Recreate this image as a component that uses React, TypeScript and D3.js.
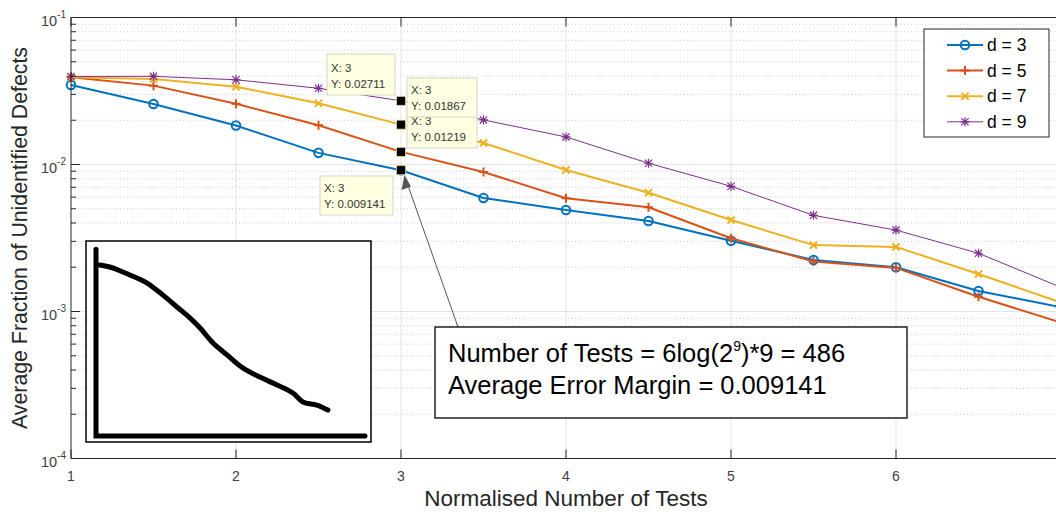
import * as d3 from "d3";

const W = 1056;
const H = 512;

// data
const xValues = [1, 1.5, 2, 2.5, 3, 3.5, 4, 4.5, 5, 5.5, 6, 6.5, 7];
const d3Values = [0.0347, 0.0258, 0.0184, 0.012, 0.009141, 0.00592, 0.0049, 0.00413, 0.00303, 0.00224, 0.002, 0.00138, 0.00107];
const d5Values = [0.0392, 0.0344, 0.0259, 0.0185, 0.01219, 0.00889, 0.0059, 0.00512, 0.00315, 0.00219, 0.00198, 0.00126, 0.00084];
const d7Values = [0.0392, 0.0382, 0.0338, 0.0261, 0.01867, 0.014, 0.00918, 0.00643, 0.00419, 0.00283, 0.00275, 0.0018, 0.00115];
const d9Values = [0.0397, 0.0398, 0.0377, 0.033, 0.02711, 0.0201, 0.0154, 0.0102, 0.00711, 0.00451, 0.00358, 0.00249, 0.00146];
const seriesNames = ["d = 3", "d = 5", "d = 7", "d = 9"];
const seriesColors = ["#0072BD", "#D95319", "#EDB120", "#7E2F8E"];
const seriesMarkers = ["o", "+", "x", "*"];
const seriesWidths = [2, 2, 2, 1];
const xTicks = [1, 2, 3, 4, 5, 6, 7];
const xTickLabels = ["1", "2", "3", "4", "5", "6", ""];
const yExponents = [-4, -3, -2, -1];

// data tips at x = 3 (drawn in this order)
const tipSeries = [3, 0, 2, 1];
const tipLabels = ["0.02711", "0.009141", "0.01219", "0.01867"];

// hand sketch in the inset (normalised units)
const sketchX = [0.014, 0.063, 0.1, 0.152, 0.19, 0.249, 0.301, 0.349, 0.387, 0.435, 0.487, 0.546, 0.609, 0.673, 0.732, 0.769, 0.821, 0.862];
const sketchY = [0.934, 0.918, 0.896, 0.863, 0.836, 0.77, 0.705, 0.645, 0.59, 0.508, 0.443, 0.372, 0.322, 0.279, 0.235, 0.186, 0.169, 0.142];

const annotationLines = ["Number of Tests = 6log(2", "9", ")*9 = 486", "Average Error Margin = 0.009141"];

const FONT = "'Liberation Sans', Arial, Helvetica, sans-serif";
const AX = "#262626";

const x = d3.scaleLinear().domain([1, 7]).range([71, 1061]);
const y = d3.scaleLog().domain([1e-4, 1e-1]).range([458.5, 17.5]);

const allSeries = [d3Values, d5Values, d7Values, d9Values];

function Marker({ type, cx, cy, color, sw }: any) {
  if (type === "o") return <circle cx={cx} cy={cy} r={4.3} fill="none" stroke={color} strokeWidth={sw} />;
  const p = 4.5;
  const q = 3.6;
  const plus = `M${cx - p},${cy}H${cx + p}M${cx},${cy - p}V${cy + p}`;
  const cross = `M${cx - q},${cy - q}L${cx + q},${cy + q}M${cx - q},${cy + q}L${cx + q},${cy - q}`;
  const d = type === "+" ? plus : type === "x" ? cross : plus + cross;
  return <path d={d} stroke={color} strokeWidth={type === "*" ? 1.2 : sw} fill="none" />;
}

export default function App() {
  const line = d3
    .line<number>()
    .x((_, i) => x(xValues[i]))
    .y((v) => y(v));

  const minorY: number[] = [];
  yExponents.slice(0, 3).forEach((e) => {
    for (let k = 2; k <= 9; k++) minorY.push(k * Math.pow(10, e));
  });

  const [x0, x1] = x.range();
  const [yb, yt] = y.range();

  const ix = d3.scaleLinear().domain([0, 1]).range([96, 365]);
  const iy = d3.scaleLinear().domain([0, 1]).range([436, 253]);
  const sketch = d3
    .line<number>()
    .x((_, i) => ix(sketchX[i]))
    .y((v) => iy(v))
    .curve(d3.curveCatmullRom);

  const tipBoxes = [
    { x: 327, y: 54, w: 68, h: 41 },
    { x: 320, y: 176, w: 73, h: 39 },
    { x: 407, y: 107, w: 70, h: 41 },
    { x: 407, y: 78, w: 70, h: 39 },
  ];

  return (
    <svg width={W} height={H} style={{ position: "fixed", left: 0, top: 0, background: "#fff" }} fontFamily={FONT}>
      <rect width={W} height={H} fill="#fff" />
      {/* minor grid */}
      {minorY.map((v) => (
        <line key={"m" + v} x1={x0} x2={x1} y1={y(v)} y2={y(v)} stroke="#c8c8c8" strokeWidth={1} strokeDasharray="1,2.5" />
      ))}
      {/* major grid */}
      {yExponents.slice(1, 3).map((e) => (
        <line key={"g" + e} x1={x0} x2={x1} y1={y(Math.pow(10, e))} y2={y(Math.pow(10, e))} stroke="#e3e3e3" strokeWidth={1} />
      ))}
      {xTicks.slice(1).map((t) => (
        <line key={"gx" + t} x1={x(t)} x2={x(t)} y1={yt} y2={yb} stroke="#e3e3e3" strokeWidth={1} />
      ))}

      {/* series */}
      {allSeries.map((vals, s) => (
        <g key={"s" + s}>
          <path d={line(vals) || ""} fill="none" stroke={seriesColors[s]} strokeWidth={seriesWidths[s]} strokeLinejoin="round" />
          {vals.map((v, i) => (
            <Marker key={i} type={seriesMarkers[s]} cx={x(xValues[i])} cy={y(v)} color={seriesColors[s]} sw={seriesWidths[s]} />
          ))}
        </g>
      ))}

      {/* data tip markers */}
      {tipSeries.map((s) => (
        <rect key={"dm" + s} x={x(3) - 4.5} y={y(allSeries[s][4]) - 4.5} width={9} height={9} fill="#000" stroke="#e8dc9a" strokeWidth={0.8} />
      ))}
      {/* data tips */}
      {tipBoxes.map((b, i) => (
        <g key={"tip" + i} fontSize={11.5} fill="#333">
          <rect x={b.x} y={b.y} width={b.w} height={b.h} fill="#ffffe1" stroke="#d6d6c8" strokeWidth={1} />
          <text x={b.x + 4} y={b.y + b.h - 23}>X: 3</text>
          <text x={b.x + 4} y={b.y + b.h - 7}>Y: {tipLabels[i]}</text>
        </g>
      ))}

      {/* inset sketch */}
      <rect x={86} y={241} width={285} height={201} fill="#fff" stroke="#000" strokeWidth={1.5} />
      <path d={`M${ix(0)},${iy(1.02)}V${iy(0)}H${ix(1)}`} fill="none" stroke="#000" strokeWidth={5} strokeLinecap="round" />
      <path d={sketch(sketchY) || ""} fill="none" stroke="#000" strokeWidth={5} strokeLinecap="round" strokeLinejoin="round" />

      {/* arrow */}
      <line x1={458} y1={327} x2={406} y2={180} stroke="#555" strokeWidth={1} />
      <path d="M404.5,175 L401.5,190 L411,186.5 Z" fill="#555" />

      {/* annotation */}
      <rect x={435} y={327} width={472} height={91} fill="#fff" stroke="#222" strokeWidth={1.5} />
      <text x={448} y={362} fontSize={25.5} fill="#000">
        {annotationLines[0]}
        <tspan fontSize={14} dy={-11}>{annotationLines[1]}</tspan>
        <tspan dy={11}>{annotationLines[2]}</tspan>
      </text>
      <text x={448} y={394} fontSize={25.5} fill="#000">{annotationLines[3]}</text>

      {/* legend */}
      <rect x={924} y={29} width={125} height={108} fill="#fff" stroke={AX} strokeWidth={1} />
      {seriesNames.map((n, s) => {
        const ly = 45 + s * 25.6;
        return (
          <g key={"lg" + s}>
            <line x1={947} x2={983} y1={ly} y2={ly} stroke={seriesColors[s]} strokeWidth={seriesWidths[s]} />
            <Marker type={seriesMarkers[s]} cx={965} cy={ly} color={seriesColors[s]} sw={seriesWidths[s]} />
            <text x={987} y={ly + 6} fontSize={17.5} fill="#000">{n}</text>
          </g>
        );
      })}

      {/* axes box */}
      <path d={`M${x0},${yt}V${yb}H${x1}M${x0},${yt}H${x1}`} fill="none" stroke={AX} strokeWidth={1} />
      {xTicks.map((t, i) => (
        <g key={"xt" + t}>
          <line x1={x(t)} x2={x(t)} y1={yb} y2={yb - 9} stroke={AX} />
          <line x1={x(t)} x2={x(t)} y1={yt} y2={yt + 9} stroke={AX} />
          {xTickLabels[i] && (
            <text x={x(t)} y={481} fontSize={14} fill="#404040" textAnchor="middle">{xTickLabels[i]}</text>
          )}
        </g>
      ))}
      {yExponents.map((e) => (
        <g key={"yt" + e}>
          <line x1={x0} x2={x0 + 9} y1={y(Math.pow(10, e))} y2={y(Math.pow(10, e))} stroke={AX} />
          <text x={66} y={y(Math.pow(10, e)) + 8.5} fontSize={14.5} fill="#404040" textAnchor="end">
            10<tspan fontSize={10} dy={-8}>{e}</tspan>
          </text>
        </g>
      ))}
      {minorY.map((v) => (
        <line key={"mt" + v} x1={x0} x2={x0 + 5} y1={y(v)} y2={y(v)} stroke={AX} />
      ))}

      <text x={(x0 + x1) / 2} y={506} fontSize={22.5} fill="#262626" textAnchor="middle">Normalised Number of Tests</text>
      <text transform={`translate(27,${(yt + yb) / 2}) rotate(-90)`} fontSize={21.3} fill="#262626" textAnchor="middle">
        Average Fraction of Unidentified Defects
      </text>
    </svg>
  );
}
